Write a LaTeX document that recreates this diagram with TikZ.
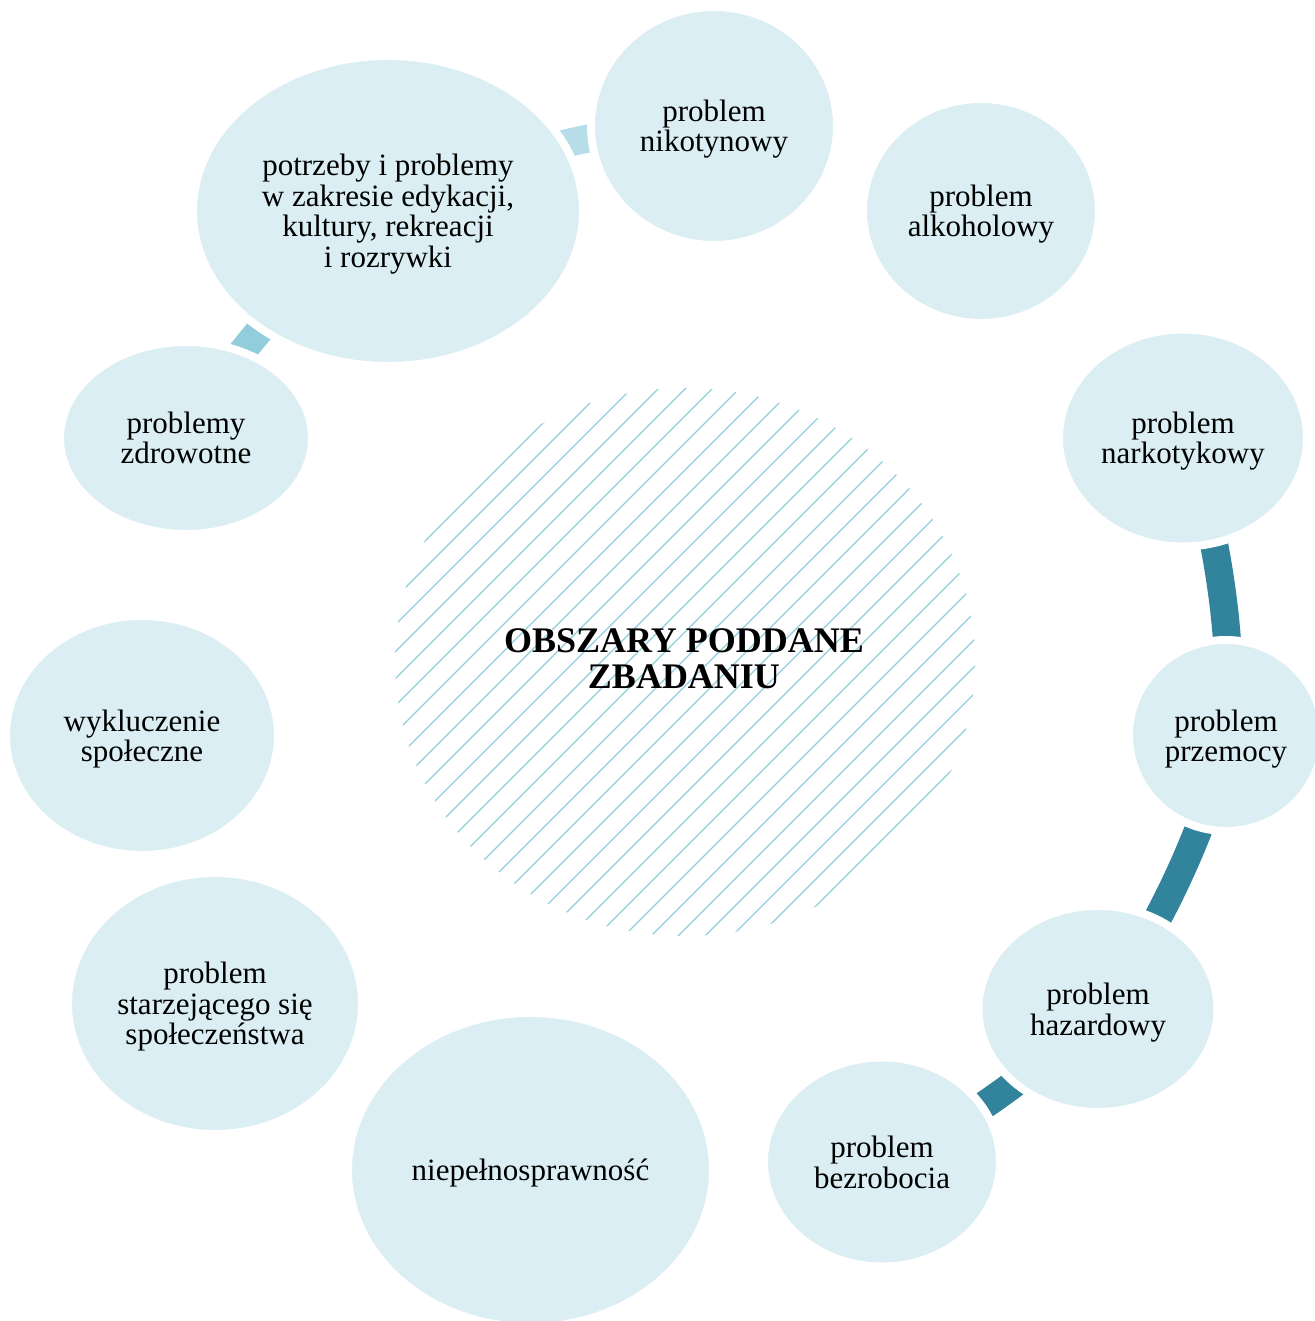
\documentclass[tikz,border=0pt]{standalone}
\usepackage{fontspec}
\setmainfont{Liberation Serif}
\usetikzlibrary{shapes.geometric,backgrounds}

\definecolor{bubblefill}{HTML}{DAEEF3}
\definecolor{linkdark}{HTML}{31849B}
\definecolor{linklight}{HTML}{B7DDE8}
\definecolor{linkmid}{HTML}{92CDDC}
\definecolor{hatchblue}{HTML}{92CDDC}

\begin{document}
\begin{tikzpicture}[x=1pt, y=1pt,
    bubble/.style 2 args={ellipse, fill=bubblefill, draw=white, line width=8pt,
        inner sep=0pt, minimum width=#1pt, minimum height=#2pt, align=center,
        text depth=0pt, font=\fontsize{31}{30.5}\selectfont},
    link/.style={line width=28pt, line cap=butt, looseness=0.68},
    hatch/.style={hatchblue, line width=1.3pt}]
    \useasboundingbox (-684,-661) rectangle (630,660);
    % hatched centre
    \begin{scope}
        \clip (1,-2) ellipse [x radius=290, y radius=274];
        \foreach \k in {-15,...,15} {\draw[hatch] (-330,-330+27*\k) -- (330,330+27*\k);}
    \end{scope}
    \node[font=\fontsize{36}{36}\selectfont\bfseries, align=center] (core) at (0,1) {OBSZARY PODDANE\\ZBADANIU};
    % ring of areas
    \node[bubble={246}{238}] (nik) at (30,534) {problem\\nikotynowy};
    \node[bubble={236}{224}] (alk) at (297,449) {problem\\alkoholowy};
    \node[bubble={248}{217}] (nar) at (499,222) {problem\\narkotykowy};
    \node[bubble={194}{191}] (prz) at (542,-75.5) {problem\\przemocy};
    \node[bubble={239}{206}] (haz) at (414,-349) {problem\\hazardowy};
    \node[bubble={236}{209}] (bez) at (198,-502) {problem\\bezrobocia};
    \node[bubble={365}{314}] (nie) at (-153.5,-510) {niepełnosprawność};
    \node[bubble={294}{261}] (sta) at (-469,-343.5) {problem\\starzejącego się\\społeczeństwa};
    \node[bubble={272}{239}] (wyk) at (-542,-75.5) {wykluczenie\\społeczne};
    \node[bubble={252}{192}] (zdr) at (-498,222) {problemy\\zdrowotne};
    \node[bubble={390}{310}] (pot) at (-296,449) {potrzeby i problemy\\w zakresie edykacji,\\kultury, rekreacji\\i rozrywki};
    % arcs behind the ellipses
    \begin{pgfonlayer}{background}
        \draw[link, linkmid] (zdr.center) to[bend left=16] (pot.center);
        \draw[link, linklight] (pot.center) to[bend left=18] (nik.center);
        \draw[link, linkdark] (nar.center) to[bend left=16] (prz.center);
        \draw[link, linkdark] (prz.center) to[bend left=16] (haz.center);
        \draw[link, linkdark] (haz.center) to[bend left=14] (bez.center);
    \end{pgfonlayer}
\end{tikzpicture}
\end{document}
